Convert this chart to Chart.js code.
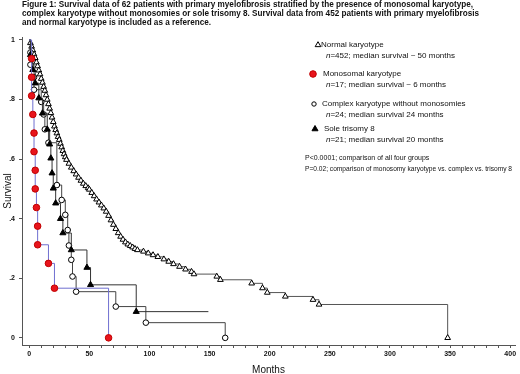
<!DOCTYPE html>
<html>
<head>
<meta charset="utf-8">
<script src="https://cdn.jsdelivr.net/npm/chart.js@4"></script>
<style>
  html, body { margin: 0; padding: 0; background: #fff; }
  #wrap { width: 520px; height: 374px; }
</style>
</head>
<body>
<div id="wrap"><canvas id="survivalChart" width="520" height="374"></canvas></div>
<script>
// Kaplan-Meier curves (months, survival fraction)
const normalMonths = [0, 1, 2, 3, 4, 5, 6, 7, 8, 9, 10, 11, 12, 13, 14, 15, 16, 17, 18, 19, 20,
  21, 22, 23, 24, 25, 26, 27, 28, 29, 30, 31, 33, 35, 37, 39, 41, 43, 45, 47, 49, 50, 52, 54, 56,
  58, 60, 62, 64, 66, 68, 70, 72, 74, 76, 78, 80, 82, 84, 86, 88, 90, 95, 99, 103, 107, 112, 116,
  120, 125, 130, 135, 137, 156, 159, 185, 194, 198, 213, 236, 241, 348];
const normalSurv = [1, .99, .978, .965, .952, .94, .925, .912, .898, .885, .87, .857, .843, .83,
  .815, .80, .785, .77, .755, .74, .725, .71, .698, .687, .675, .665, .652, .64, .628, .617, .607,
  .598, .585, .572, .56, .549, .538, .528, .518, .51, .503, .498, .487, .476, .465, .455, .445,
  .435, .424, .41, .395, .38, .366, .352, .34, .33, .321, .314, .309, .304, .299, .295, .29, .284,
  .278, .272, .264, .256, .248, .239, .23, .222, .214, .206, .195, .183, .167, .152, .139, .128,
  .112, 0];

const monoMonths = [0, 2, 2, 2, 3, 4, 4, 5, 5, 6, 7, 7, 16, 21, 66];
const monoSurv = [1, .9375, .875, .8125, .75, .6875, .625, .5625, .5, .4375, .375, .3125, .25, .1667, 0];

const complexMonths = [0, 1, 1, 4, 4, 10, 12, 13, 16, 23, 27, 30, 32, 33, 35, 36, 39, 72, 97, 163];
const complexSurv = [1, .958, .917, .875, .833, .792, .75, .70, .655, .513, .463, .413, .362, .31,
  .262, .206, .155, .105, .051, 0];

const trisomyMonths = [0, 1, 3, 5, 8, 11, 15, 17, 18, 19, 20, 22, 26, 28, 35, 48, 51, 89, 149];
const trisomySurv = [1, .95, .90, .855, .805, .754, .70, .65, .603, .553, .502, .452, .40, .352,
  .295, .236, .178, .088, .088];

// axis ticks
const yTickValues = [0, .2, .4, .6, .8, 1];
const yTickLabels = ['0', '.2', '.4', '.6', '.8', '1'];
const xLabelStep = 50;
const xMinorStep = 10;
const xMaxTick = 400;

// text
const titleLines = [
  'Figure 1: Survival data of 62 patients with primary myelofibrosis stratified by the presence of monosomal karyotype,',
  'complex karyotype without monosomies or sole trisomy 8. Survival data from 452 patients with primary myelofibrosis',
  'and normal karyotype is included as a reference.'
];
const groupNames = ['Normal karyotype', 'Monosomal karyotype', 'Complex karyotype without monosomies', 'Sole trisomy 8'];
const groupN = ['452', '17', '24', '21'];
const groupMedians = ['median survival ~ 50 months', 'median survival ~ 6 months', 'median survival 24 months', 'median survival 20 months'];
const pValueLines = [
  'P<0.0001; comparison of all four groups',
  'P=0.02; comparison of monosomy karyotype vs. complex vs. trisomy 8'
];

const toPoints = (months, surv) => months.map((m, i) => ({ x: m, y: surv[i] }));

// marker styles per group (used for curves and the key)
const markers = [
  { pointStyle: 'triangle', radius: 3.3, fill: '#ffffff', stroke: '#000000' },
  { pointStyle: 'circle', radius: 3.3, fill: '#e8141c', stroke: '#c00000' },
  { pointStyle: 'circle', radius: 2.8, fill: '#ffffff', stroke: '#000000' },
  { pointStyle: 'triangle', radius: 3.5, fill: '#000000', stroke: '#000000' }
];

function kmDataset(label, months, surv, lineColor, mk, order, censoredEnd) {
  const last = months.length - 1;
  return {
    label: label,
    data: toPoints(months, surv),
    stepped: true,
    borderColor: lineColor,
    borderWidth: 1,
    pointStyle: mk.pointStyle,
    pointRadius: ctx => (ctx.dataIndex === 0 || (censoredEnd && ctx.dataIndex === last)) ? 0 : mk.radius,
    pointBackgroundColor: mk.fill,
    pointBorderColor: mk.stroke,
    pointBorderWidth: 1,
    fill: false,
    clip: false,
    order: order
  };
}

const textFont = '"Liberation Sans", Arial, sans-serif';

// draws the figure caption and the key inside the plot
const annotationPlugin = {
  id: 'annotations',
  afterDraw(chart) {
    const ctx = chart.ctx;
    ctx.save();
    ctx.fillStyle = '#111';
    ctx.textBaseline = 'middle';
    ctx.textAlign = 'left';

    // caption
    ctx.font = 'bold 8.5px ' + textFont;
    ctx.fillText(titleLines[0], 22, 5, 451);
    ctx.fillText(titleLines[1], 22, 14, 457);
    ctx.fillText(titleLines[2], 22, 23, 189);

    // key
    const nameY = [45, 74, 104, 129];
    const markX = [318, 313, 314, 315];
    const nameX = [321, 323, 322, 324];
    groupNames.forEach((name, i) => {
      const mk = markers[i];
      ctx.fillStyle = mk.fill;
      ctx.strokeStyle = mk.stroke;
      ctx.lineWidth = 1;
      Chart.helpers.drawPoint(ctx, { pointStyle: mk.pointStyle, radius: i === 2 ? 2.2 : mk.radius, rotation: 0, borderWidth: 1 }, markX[i], nameY[i]);

      ctx.fillStyle = '#111';
      ctx.font = '8px ' + textFont;
      ctx.fillText(name, nameX[i], nameY[i]);

      ctx.font = 'italic 8px ' + textFont;
      ctx.fillText('n', 326, nameY[i] + 10.5);
      const w = ctx.measureText('n').width;
      ctx.font = '8px ' + textFont;
      ctx.fillText('=' + groupN[i] + '; ' + groupMedians[i], 326 + w, nameY[i] + 10.5);
    });

    ctx.font = '7px ' + textFont;
    ctx.fillText(pValueLines[0], 305, 158);
    ctx.fillText(pValueLines[1], 305, 169, 207);
    ctx.restore();
  }
};

const survivalCtx = document.getElementById('survivalChart').getContext('2d');

const survivalChart = new Chart(survivalCtx, {
  type: 'line',
  data: {
    datasets: [
      kmDataset(groupNames[0], normalMonths, normalSurv, '#555555', markers[0], 3, false),
      kmDataset(groupNames[1], monoMonths, monoSurv, '#6f6fd0', markers[1], 0, false),
      kmDataset(groupNames[2], complexMonths, complexSurv, '#444444', markers[2], 2, false),
      kmDataset(groupNames[3], trisomyMonths, trisomySurv, '#333333', markers[3], 1, true)
    ]
  },
  options: {
    responsive: false,
    animation: false,
    devicePixelRatio: 1,
    layout: { padding: { top: 37, right: 2, left: 0, bottom: 0 } },
    plugins: {
      legend: { display: false },
      tooltip: { enabled: false }
    },
    scales: {
      x: {
        type: 'linear',
        min: -6,
        max: 404,
        afterFit: scale => { scale.height = 29; },
        afterBuildTicks: scale => {
          const ticks = [];
          for (let v = 0; v <= xMaxTick; v += xMinorStep) ticks.push({ value: v });
          scale.ticks = ticks;
        },
        grid: { drawOnChartArea: false, drawTicks: true, tickLength: 3, color: '#555' },
        border: { display: true, color: '#555', width: 1 },
        ticks: {
          autoSkip: false,
          maxRotation: 0,
          padding: 2,
          color: '#111',
          font: { family: textFont, size: 7, weight: 'bold' },
          callback: v => (v % xLabelStep === 0 ? String(v) : '')
        },
        title: {
          display: true,
          text: 'Months',
          color: '#111',
          font: { family: textFont, size: 10 },
          padding: { top: 0, bottom: -2 }
        }
      },
      y: {
        type: 'linear',
        min: -0.024,
        max: 1.01,
        afterFit: scale => { scale.width = 22; },
        afterBuildTicks: scale => {
          scale.ticks = yTickValues.map(v => ({ value: v }));
        },
        grid: { drawOnChartArea: false, drawTicks: true, tickLength: 3, color: '#555' },
        border: { display: true, color: '#555', width: 1 },
        ticks: {
          padding: 4,
          color: '#111',
          font: { family: textFont, size: 7, weight: 'bold' },
          callback: v => yTickLabels[yTickValues.indexOf(v)]
        },
        title: {
          display: true,
          text: 'Survival',
          color: '#111',
          font: { family: textFont, size: 10 },
          padding: { top: 2, bottom: 0 }
        }
      }
    }
  },
  plugins: [annotationPlugin]
});
</script>
</body>
</html>
